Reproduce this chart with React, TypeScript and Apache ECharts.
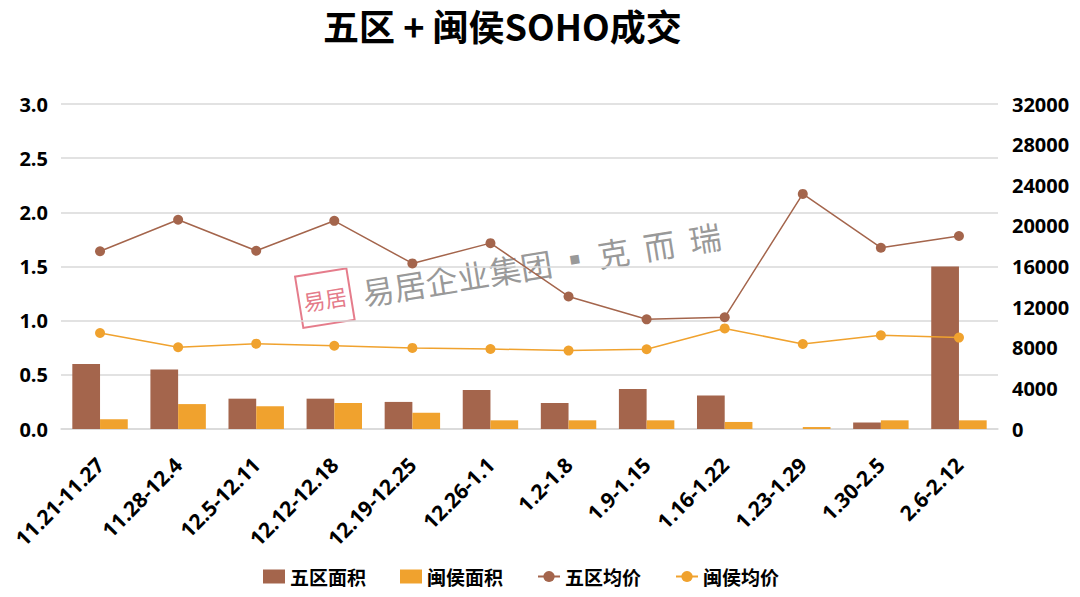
import React, { useEffect, useRef } from "react";
import * as echarts from "echarts";

const categories = [
  "11.21-11.27", "11.28-12.4", "12.5-12.11", "12.12-12.18", "12.19-12.25", "12.26-1.1",
  "1.2-1.8", "1.9-1.15", "1.16-1.22", "1.23-1.29", "1.30-2.5", "2.6-2.12",
];
const wuquArea = [0.6, 0.55, 0.28, 0.28, 0.25, 0.36, 0.24, 0.37, 0.31, 0, 0.06, 1.5];
const minhouArea = [0.09, 0.23, 0.21, 0.24, 0.15, 0.08, 0.08, 0.08, 0.065, 0.018, 0.08, 0.08];
const wuquPrice = [17500, 20600, 17550, 20500, 16300, 18300, 13050, 10800, 11000, 23150, 17850, 19000];
const minhouPrice = [9450, 8050, 8400, 8200, 7980, 7880, 7720, 7850, 9900, 8370, 9220, 9000];
const leftTicks = { min: 0, max: 3, interval: 0.5 };
const rightTicks = { min: 0, max: 32000, interval: 4000 };

const BROWN = "#A4654C";
const ORANGE = "#F0A22E";
const FONT = "'Noto Sans CJK SC', 'Noto Sans', sans-serif";
const NUMFONT = "'Open Sans', 'Noto Sans CJK SC', sans-serif";

export default function App() {
  const ref = useRef<HTMLDivElement>(null);
  useEffect(() => {
    document.body.style.margin = "0";
    const chart = echarts.init(ref.current!, null, { renderer: "svg" });
    chart.setOption({
      animation: false,
      backgroundColor: "#ffffff",
      textStyle: { fontFamily: FONT },
      title: {
        text: "五区 + 闽侯SOHO成交",
        left: 318,
        top: 2,
        textStyle: { fontSize: 36, fontWeight: "bold", color: "#000", fontFamily: FONT },
      },
      legend: {
        bottom: 6,
        left: 258,
        itemGap: 34,
        itemWidth: 22,
        itemHeight: 14,
        textStyle: { fontSize: 19, fontWeight: "bold", color: "#000", fontFamily: FONT },
        data: [
          { name: "五区面积", icon: "rect" },
          { name: "闽侯面积", icon: "rect" },
          { name: "五区均价" },
          { name: "闽侯均价" },
        ],
      },
      grid: { left: 61, right: 82, top: 104, bottom: 168, containLabel: false },
      xAxis: {
        type: "category",
        data: categories,
        axisTick: { show: false },
        axisLine: { show: true, lineStyle: { color: "#D9D9D9", width: 1.5 } },
        axisLabel: {
          rotate: 45,
          interval: 0,
          margin: 32,
          fontSize: 21,
          fontWeight: "bold",
          color: "#000",
          fontFamily: NUMFONT,
        },
      },
      yAxis: [
        {
          type: "value",
          ...leftTicks,
          axisLine: { show: false },
          axisTick: { show: false },
          splitLine: { lineStyle: { color: "#D9D9D9", width: 1.5 } },
          axisLabel: {
            formatter: (v: number) => v.toFixed(1),
            fontSize: 20,
            fontWeight: "bold",
            color: "#000",
            margin: 13,
            fontFamily: NUMFONT,
          },
        },
        {
          type: "value",
          ...rightTicks,
          axisLine: { show: false },
          axisTick: { show: false },
          splitLine: { show: false },
          axisLabel: {
            formatter: (v: number) => String(v),
            fontSize: 20,
            fontWeight: "bold",
            color: "#000",
            margin: 14,
            fontFamily: NUMFONT,
          },
        },
      ],
      series: [
        {
          name: "五区面积",
          type: "bar",
          data: wuquArea,
          yAxisIndex: 0,
          barGap: "0%",
          barCategoryGap: "29%",
          itemStyle: { color: BROWN },
        },
        {
          name: "闽侯面积",
          type: "bar",
          data: minhouArea,
          yAxisIndex: 0,
          itemStyle: { color: ORANGE },
        },
        {
          name: "五区均价",
          type: "line",
          data: wuquPrice,
          yAxisIndex: 1,
          symbol: "circle",
          symbolSize: 10,
          lineStyle: { color: BROWN, width: 1.5 },
          itemStyle: { color: BROWN },
          z: 5,
        },
        {
          name: "闽侯均价",
          type: "line",
          data: minhouPrice,
          yAxisIndex: 1,
          symbol: "circle",
          symbolSize: 10,
          lineStyle: { color: ORANGE, width: 1.5 },
          itemStyle: { color: ORANGE },
          z: 5,
        },
      ],
      graphic: [
        {
          type: "group",
          x: 303,
          y: 326,
          rotation: 0.16,
          z: 10,
          children: [
            {
              type: "rect",
              shape: { x: 0, y: -50, width: 52, height: 52 },
              style: { fill: "rgba(255,255,255,0.6)", stroke: "rgba(220,80,100,0.75)", lineWidth: 2 },
            },
            {
              type: "text",
              x: 26,
              y: -24,
              style: {
                text: "易居",
                fontSize: 22,
                fill: "rgba(220,80,100,0.75)",
                align: "center",
                verticalAlign: "middle",
                fontFamily: FONT,
              },
            },
            {
              type: "text",
              x: 64,
              y: -24,
              style: {
                text: "易居企业集团 ▪ 克  而  瑞",
                fontSize: 32,
                fill: "rgba(120,120,120,0.75)",
                align: "left",
                verticalAlign: "middle",
                fontFamily: FONT,
              },
            },
          ],
        },
      ],
    });
    return () => chart.dispose();
  }, []);
  return <div ref={ref} style={{ width: 1080, height: 597 }} />;
}
